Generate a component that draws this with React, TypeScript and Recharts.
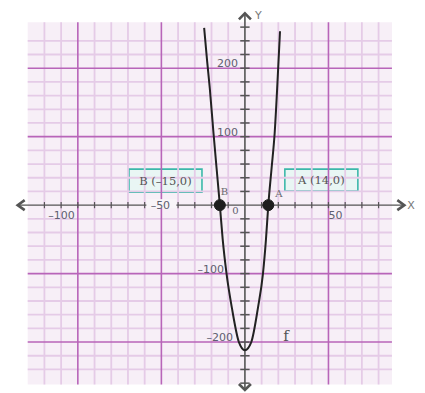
import { ComposedChart, Line, XAxis, YAxis, ReferenceLine, ReferenceArea, ReferenceDot } from 'recharts'

const curveX = [-24.4, -22.6, -21, -18.8, -17, -15, -13.3, -11, -7.8, -3.6, 0, 3.8, 7.8, 10.8, 12.6, 14, 16, 17.8, 19.5, 21]
const curveY = [259, 210, 170, 105, 55, 0, -50, -100, -150, -200, -212, -200, -150, -100, -50, 0, 55, 105, 180, 254]

const roots = [
  { name: 'B', x: -15, y: 0, box: 'B (–15,0)' },
  { name: 'A', x: 14, y: 0, box: 'A (14,0)' },
]

const xMinor = [-120, -110, -90, -80, -70, -60, -40, -30, -20, -10, 10, 20, 30, 40, 60, 70, 80]
const xMajor = [-100, -50, 50]
const yMinor = [-240, -220, -180, -160, -140, -120, -80, -60, -40, -20, 20, 40, 60, 80, 120, 140, 160, 180, 220, 240]
const yMajor = [-200, -100, 100, 200]
const xTicks = [-120, -110, -100, -90, -80, -70, -60, -50, -40, -30, -20, -10, 10, 20, 30, 40, 50, 60, 70, 80]
const yTicks = [-260, -240, -220, -200, -180, -160, -140, -120, -100, -80, -60, -40, -20, 20, 40, 60, 80, 100, 120, 140, 160, 180, 200, 220, 240, 260]
const xLabels = [-100, -50, 50]
const yLabels = [200, 100, -100, -200]

const data = curveX.map((x, i) => ({ x, y: curveY[i] }))

const GRID = { left: -130, right: 88, bottom: -262, top: 267 }
const AXIS = { left: -136, right: 95.4, bottom: -270, top: 280 }

const BG = '#f7eff7'
const MINOR = '#e5cbe7'
const MAJOR = '#b865b9'
const AXIS_COLOR = '#555'
const LABEL = '#5f6070'
const NUM_FONT = 'DejaVu Sans'
const SERIF = 'DejaVu Serif'

const fmt = (v: number) => (v < 0 ? '–' + Math.abs(v) : String(v))

function textDot(key: string, x: number, y: number, text: string, dx: number, dy: number, style: any) {
  return (
    <ReferenceDot
      key={key}
      x={x}
      y={y}
      r={0}
      ifOverflow="visible"
      shape={(p: any) => (
        <text x={p.cx + dx} y={p.cy + dy} {...style}>
          {text}
        </text>
      )}
    />
  )
}

function arrow(key: string, x: number, y: number, dir: 'up' | 'down' | 'left' | 'right') {
  return (
    <ReferenceDot
      key={key}
      x={x}
      y={y}
      r={0}
      ifOverflow="visible"
      shape={(p: any) => {
        const { cx, cy } = p
        const d =
          dir === 'up'
            ? `M${cx - 6} ${cy + 6} L${cx} ${cy} L${cx + 6} ${cy + 6}`
            : dir === 'down'
            ? `M${cx - 6} ${cy - 6} L${cx} ${cy} L${cx + 6} ${cy - 6}`
            : dir === 'left'
            ? `M${cx + 7} ${cy - 5} L${cx} ${cy} L${cx + 7} ${cy + 5}`
            : `M${cx - 7} ${cy - 5} L${cx} ${cy} L${cx - 7} ${cy + 5}`
        return <path d={d} fill="none" stroke={AXIS_COLOR} strokeWidth={2.6} strokeLinejoin="miter" />
      }}
    />
  )
}

const yLabelDx = (v: number) => (v === -100 ? -21 : v < 0 ? -12 : -7)

export default function App() {
  const numStyle = { fill: LABEL, fontSize: 11, fontFamily: NUM_FONT }
  return (
    <div style={{ position: 'absolute', left: 0, top: 0, background: '#fff' }}>
      <ComposedChart width={425} height={393} data={data} margin={{ top: 10, right: 13, bottom: 3, left: 11 }}>
        <XAxis type="number" dataKey="x" domain={[-140, 100]} allowDataOverflow hide />
        <YAxis type="number" domain={[-270, 285]} allowDataOverflow hide />

        <ReferenceArea x1={GRID.left} x2={GRID.right} y1={GRID.bottom} y2={GRID.top} fill={BG} fillOpacity={1} stroke="none" />

        {xMinor.map((v) => (
          <ReferenceLine key={`xm${v}`} segment={[{ x: v, y: GRID.bottom }, { x: v, y: GRID.top }]} stroke={MINOR} strokeWidth={1.8} />
        ))}
        {yMinor.map((v) => (
          <ReferenceLine key={`ym${v}`} segment={[{ x: GRID.left, y: v }, { x: GRID.right, y: v }]} stroke={MINOR} strokeWidth={1.8} />
        ))}
        {xMajor.map((v) => (
          <ReferenceLine key={`xM${v}`} segment={[{ x: v, y: GRID.bottom }, { x: v, y: GRID.top }]} stroke={MAJOR} strokeWidth={1.6} />
        ))}
        {yMajor.map((v) => (
          <ReferenceLine key={`yM${v}`} segment={[{ x: GRID.left, y: v }, { x: GRID.right, y: v }]} stroke={MAJOR} strokeWidth={1.6} />
        ))}

        <ReferenceLine segment={[{ x: AXIS.left, y: 0 }, { x: AXIS.right, y: 0 }]} stroke={AXIS_COLOR} strokeWidth={1.4} />
        <ReferenceLine segment={[{ x: 0, y: AXIS.bottom }, { x: 0, y: AXIS.top }]} stroke={AXIS_COLOR} strokeWidth={1.6} />
        {xTicks.map((v) => (
          <ReferenceLine key={`xt${v}`} segment={[{ x: v, y: -4.5 }, { x: v, y: 4.5 }]} stroke={AXIS_COLOR} strokeWidth={1.2} />
        ))}
        {yTicks.map((v) => (
          <ReferenceLine key={`yt${v}`} segment={[{ x: -2.8, y: v }, { x: 2.8, y: v }]} stroke={AXIS_COLOR} strokeWidth={1.5} />
        ))}
        {arrow('au', 0, AXIS.top, 'up')}
        {arrow('ad', 0, AXIS.bottom, 'down')}
        {arrow('al', AXIS.left, 0, 'left')}
        {arrow('ar', AXIS.right, 0, 'right')}

        <Line
          type="monotone"
          dataKey="y"
          stroke="#222"
          strokeWidth={2}
          dot={false}
          activeDot={false}
          isAnimationActive={false}
        />

        {roots.map((r) => (
          <ReferenceDot key={`d${r.name}`} x={r.x} y={r.y} r={5.5} fill="#1e1e1e" stroke="#1e1e1e" />
        ))}

        <ReferenceArea
          x1={-69.4}
          x2={-25.7}
          y1={19}
          y2={52.6}
          fill="#e9f6f4"
          fillOpacity={1}
          stroke="#3cb8aa"
          strokeWidth={1.6}
          label={{ value: roots[0].box, position: 'center', fill: '#555', fontSize: 11.5, fontFamily: SERIF }}
        />
        <ReferenceArea
          x1={23.9}
          x2={67.6}
          y1={20.4}
          y2={52.6}
          fill="#e9f6f4"
          fillOpacity={1}
          stroke="#3cb8aa"
          strokeWidth={1.6}
          label={{ value: roots[1].box, position: 'center', fill: '#555', fontSize: 11.5, fontFamily: SERIF }}
        />

        {xLabels.map((v) =>
          v === -50 ? (
            <ReferenceDot
              key={`xl${v}`}
              x={v}
              y={0}
              r={0}
              ifOverflow="visible"
              shape={(p: any) => (
                <g>
                  <rect x={p.cx - 15} y={p.cy - 6} width={30} height={9} fill="#f8f4f8" />
                  <text x={p.cx - 1} y={p.cy + 3.5} textAnchor="middle" {...numStyle}>
                    {fmt(v)}
                  </text>
                </g>
              )}
            />
          ) : (
            textDot(`xl${v}`, v, 0, fmt(v), v < 0 ? -3 : 0, 14, { ...numStyle, textAnchor: v < 0 ? 'end' : 'start' })
          )
        )}
        {textDot('origin', 0, 0, '0', -9.5, 9, { ...numStyle, fontSize: 10, textAnchor: 'middle', fontFamily: SERIF })}
        {yLabels.map((v) => textDot(`yl${v}`, 0, v, fmt(v), yLabelDx(v), -1, { ...numStyle, textAnchor: 'end' }))}

        {textDot('lB', roots[0].x, 0, roots[0].name, 1, -10, { fill: '#6a6a70', fontSize: 10, fontFamily: SERIF })}
        {textDot('lA', roots[1].x, 0, roots[1].name, 7, -8, { fill: '#6a6a70', fontSize: 10, fontFamily: SERIF })}
        {textDot('lX', AXIS.right, 0, 'X', 3, 4, { fill: '#777', fontSize: 11, fontFamily: NUM_FONT })}
        {textDot('lY', 0, AXIS.top, 'Y', 10, 6, { fill: '#777', fontSize: 11, fontFamily: NUM_FONT })}
        {textDot('lf', 23, -200, 'f', 0, -1, { fill: '#555', fontSize: 15, fontFamily: SERIF })}
      </ComposedChart>
    </div>
  )
}
